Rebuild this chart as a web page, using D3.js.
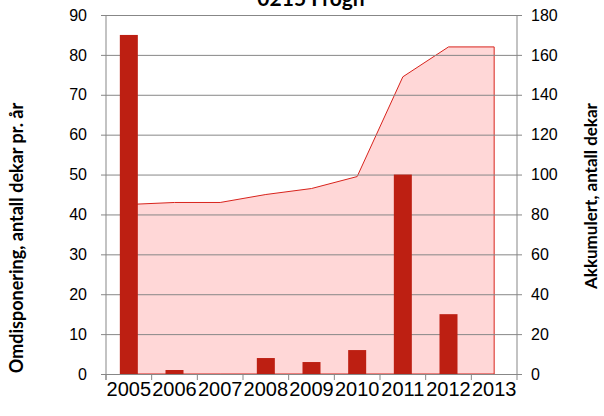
<!DOCTYPE html>
<html>
<head>
<meta charset="utf-8">
<script src="https://cdn.jsdelivr.net/npm/d3@7"></script>
<style>
  body { margin: 0; background: #fff; }
  svg { display: block; font-family: Lato, "Open Sans", sans-serif; }
</style>
</head>
<body>
<div id="chart"></div>
<script>
// chart data
const years = ["2005", "2006", "2007", "2008", "2009", "2010", "2011", "2012", "2013"];
const perYear = [85, 1, 0, 4, 3, 6, 50, 15, 0];
const cumulative = [85, 86, 86, 90, 93, 99, 149, 164, 164];
const leftTicks = [0, 10, 20, 30, 40, 50, 60, 70, 80, 90];
const rightTicks = [0, 20, 40, 60, 80, 100, 120, 140, 160, 180];

const width = 604;
const height = 416;
const margin = {left: 106, right: 87, top: 15, bottom: 42};

const svg = d3.select("#chart")
  .append("svg")
  .attr("width", width)
  .attr("height", height);

// scales
const xScale = d3.scaleBand()
  .domain(years)
  .range([margin.left, width - margin.right]);

const yLeft = d3.scaleLinear()
  .domain([0, 90])
  .range([height - margin.bottom, margin.top]);

const yRight = d3.scaleLinear()
  .domain([0, 180])
  .range([height - margin.bottom, margin.top]);

const center = d => xScale(d) + xScale.bandwidth() / 2;

// cumulative area
const area = d3.area()
  .x((d, i) => center(years[i]))
  .y0(yRight(0))
  .y1(d => yRight(d));

svg.append("path")
  .datum(cumulative)
  .attr("d", area)
  .attr("fill", "#ffd7d7")
  .attr("stroke", "#d8231c")
  .attr("stroke-width", 1);

// left axis with gridlines
svg.append("g")
  .attr("transform", `translate(${margin.left},0)`)
  .call(d3.axisLeft(yLeft)
    .tickValues(leftTicks)
    .tickSize(-(width - margin.left - margin.right))
    .tickPadding(19))
  .call(g => g.select(".domain").remove())
  .call(g => g.selectAll(".tick line").attr("stroke", "#878787").attr("x1", -5))
  .call(g => g.selectAll(".tick text").attr("font-size", "16px").attr("fill", "#000"));

svg.append("line")
  .attr("x1", margin.left).attr("x2", margin.left)
  .attr("y1", margin.top).attr("y2", height - margin.bottom + 6)
  .attr("stroke", "#878787");

// right axis
svg.append("g")
  .attr("transform", `translate(${width - margin.right},0)`)
  .call(d3.axisRight(yRight)
    .tickValues(rightTicks)
    .tickSize(5)
    .tickPadding(9))
  .call(g => g.selectAll("line, path").attr("stroke", "#878787"))
  .call(g => g.select(".domain").attr("d", `M0,${margin.top}V${height - margin.bottom}`))
  .call(g => g.selectAll(".tick text").attr("font-size", "16px").attr("fill", "#000"));

// bars
svg.selectAll(".bar")
  .data(perYear)
  .enter()
  .append("rect")
    .attr("class", "bar")
    .attr("x", (d, i) => center(years[i]) - 9)
    .attr("y", d => yLeft(d))
    .attr("width", 18)
    .attr("height", d => yLeft(0) - yLeft(d))
    .attr("fill", "#bd1f12");

// bottom axis
svg.append("g")
  .attr("transform", `translate(0,${height - margin.bottom})`)
  .call(d3.axisBottom(xScale).tickSize(0).tickPadding(8))
  .call(g => g.select(".domain").attr("stroke", "#878787"))
  .call(g => g.selectAll(".tick text").attr("font-size", "20px").attr("fill", "#000"));

svg.append("g")
  .selectAll("line")
  .data(years.concat(["end"]))
  .enter()
  .append("line")
    .attr("x1", (d, i) => margin.left + i * xScale.bandwidth())
    .attr("x2", (d, i) => margin.left + i * xScale.bandwidth())
    .attr("y1", height - margin.bottom)
    .attr("y2", height - margin.bottom + 6)
    .attr("stroke", "#878787");

// titles
svg.append("text")
  .attr("x", 311)
  .attr("y", 6)
  .attr("text-anchor", "middle")
  .attr("font-size", "21px")
  .attr("font-weight", "bold")
  .text("0215 Frogn");

svg.append("text")
  .attr("transform", "translate(23,238) rotate(-90)")
  .attr("text-anchor", "middle")
  .attr("font-size", "18px")
  .attr("font-weight", "bold")
  .text("Omdisponering, antall dekar pr. år");

svg.append("text")
  .attr("transform", "translate(597,196) rotate(-90)")
  .attr("text-anchor", "middle")
  .attr("font-size", "17px")
  .attr("font-weight", "bold")
  .text("Akkumulert, antall dekar");
</script>
</body>
</html>
